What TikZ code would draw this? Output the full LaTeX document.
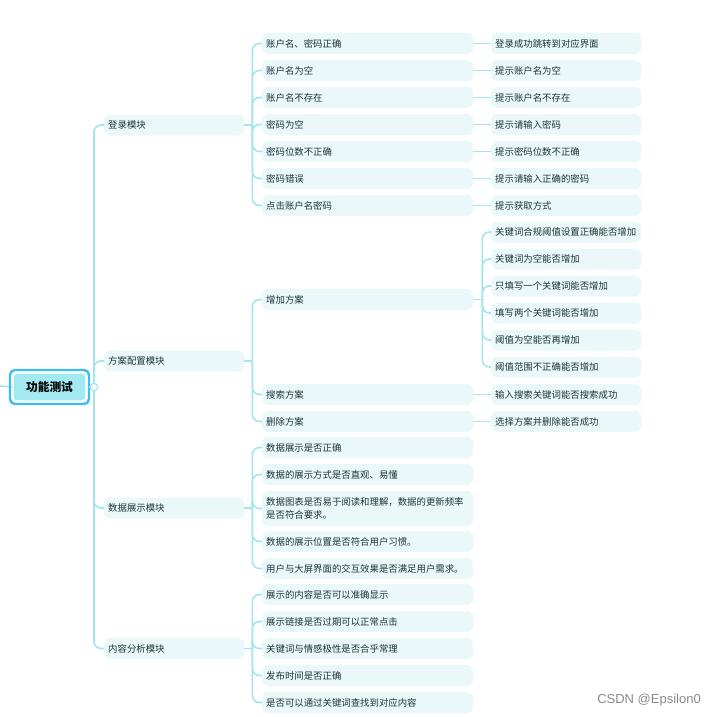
\documentclass[tikz,border=0pt]{standalone}
\usepackage{fontspec}
\newfontfamily\cjk{Noto Sans CJK SC}
\newfontfamily\wmfont{Liberation Sans}
\definecolor{linec}{HTML}{A2E5EE}
\definecolor{boxc}{HTML}{EAF8FA}
\definecolor{txtc}{HTML}{1C3438}
\definecolor{rootf}{HTML}{A3E9F1}
\definecolor{rootb}{HTML}{3BBEF5}
\definecolor{wmc}{HTML}{8A8A8A}
\begin{document}
\begin{tikzpicture}[x=1pt,y=-1pt,
  conn/.style={draw=linec, line width=1.6pt, rounded corners=7pt},
  lone/.style={rectangle, rounded corners=6pt, fill=boxc, anchor=west, minimum height=21pt, inner xsep=4pt, inner ysep=2pt, align=left, text=txtc, font=\cjk\fontsize{9.4}{13}\selectfont, text width=132pt},
  ltwo/.style={lone, text width=203pt},
  lthree/.style={lone, text width=142pt},
]
\useasboundingbox (0,0) rectangle (715,717);
% root
\coordinate (lstub) at (0,386);
\node[rectangle, rounded corners=4pt, fill=rootf, draw=white, line width=1.2pt, minimum width=73pt, minimum height=28pt, inner sep=0pt, text=black, font=\cjk\bfseries\fontsize{11.7}{14}\selectfont] (root) at (49.5,387) {功能测试};
\draw[conn] (lstub) -- (root.west);
\draw[draw=rootb, line width=2.4pt, rounded corners=5pt] ([xshift=-2.4pt,yshift=2.4pt]root.north west) rectangle ([xshift=2.4pt,yshift=-2.4pt]root.south east);
\coordinate (hub) at (94,387);
\draw[conn] ([xshift=2.4pt]root.east) -- (hub);
% level 1
\node[lone] (m1) at (104,125) {登录模块};
\node[lone] (m2) at (104,361) {方案配置模块};
\node[lone] (m3) at (104,508) {数据展示模块};
\node[lone] (m4) at (104,648.5) {内容分析模块};
\foreach \m in {m1,m2,m3,m4} \draw[conn] (hub) |- (\m.west);
\node[circle, draw=linec, fill=white, line width=1.2pt, minimum size=7.5pt, inner sep=0pt] (hubdot) at (hub) {};
% login
\node[ltwo] (a1) at (262,43.5) {账户名、密码正确};
\node[ltwo] (a2) at (262,70.5) {账户名为空};
\node[ltwo] (a3) at (262,97.5) {账户名不存在};
\node[ltwo] (a4) at (262,124.5) {密码为空};
\node[ltwo] (a5) at (262,151.5) {密码位数不正确};
\node[ltwo] (a6) at (262,178.5) {密码错误};
\node[ltwo] (a7) at (262,205.5) {点击账户名密码};
\draw[conn] (m1.east) -- ++(8,0) coordinate (j1);
\foreach \a in {a1,a2,a3,a4,a5,a6,a7} \draw[conn] (j1) |- (\a.west);
\node[lthree] (b1) at (491,43.5) {登录成功跳转到对应界面};
\node[lthree] (b2) at (491,70.5) {提示账户名为空};
\node[lthree] (b3) at (491,97.5) {提示账户名不存在};
\node[lthree] (b4) at (491,124.5) {提示请输入密码};
\node[lthree] (b5) at (491,151.5) {提示密码位数不正确};
\node[lthree] (b6) at (491,178.5) {提示请输入正确的密码};
\node[lthree] (b7) at (491,205.5) {提示获取方式};
\foreach \i in {1,...,7} \draw[conn, line width=1.9pt] (a\i.east) -- (b\i.west);
% scheme config
\node[ltwo] (s1) at (262,299.5) {增加方案};
\node[ltwo] (s2) at (262,394.5) {搜索方案};
\node[ltwo] (s3) at (262,421.5) {删除方案};
\draw[conn] (m2.east) -- ++(8,0) coordinate (j2);
\foreach \a in {s1,s2,s3} \draw[conn] (j2) |- (\a.west);
\node[lthree] (e1) at (491,232) {关键词合规阈值设置正确能否增加};
\node[lthree] (e2) at (491,259) {关键词为空能否增加};
\node[lthree] (e3) at (491,286) {只填写一个关键词能否增加};
\node[lthree] (e4) at (491,313) {填写两个关键词能否增加};
\node[lthree] (e5) at (491,340) {阈值为空能否再增加};
\node[lthree] (e6) at (491,367) {阈值范围不正确能否增加};
\draw[conn] (s1.east) -- ++(9,0) coordinate (j3);
\foreach \a in {e1,e2,e3,e4,e5,e6} \draw[conn] (j3) |- (\a.west);
\node[lthree] (f1) at (491,394.5) {输入搜索关键词能否搜索成功};
\node[lthree] (f2) at (491,421.5) {选择方案并删除能否成功};
\draw[conn, line width=1.9pt] (s2.east) -- (f1.west);
\draw[conn, line width=1.9pt] (s3.east) -- (f2.west);
% data display
\node[ltwo] (d1) at (262,447.5) {数据展示是否正确};
\node[ltwo] (d2) at (262,474.5) {数据的展示方式是否直观、易懂};
\node[ltwo, minimum height=35pt] (d3) at (262,508.5) {数据图表是否易于阅读和理解，数据的更新频率\\是否符合要求。};
\node[ltwo] (d4) at (262,541.5) {数据的展示位置是否符合用户习惯。};
\node[ltwo] (d5) at (262,568.5) {用户与大屏界面的交互效果是否满足用户需求。};
\draw[conn] (m3.east) -- ++(8,0) coordinate (j4);
\foreach \a in {d1,d2,d3,d4,d5} \draw[conn] (j4) |- (\a.west);
% content analysis
\node[ltwo] (c1) at (262,594.5) {展示的内容是否可以准确显示};
\node[ltwo] (c2) at (262,621.5) {展示链接是否过期可以正常点击};
\node[ltwo] (c3) at (262,648.5) {关键词与情感极性是否合乎常理};
\node[ltwo] (c4) at (262,675.5) {发布时间是否正确};
\node[ltwo] (c5) at (262,702.5) {是否可以通过关键词查找到对应内容};
\draw[conn] (m4.east) -- ++(8,0) coordinate (j5);
\foreach \a in {c1,c2,c3,c4,c5} \draw[conn] (j5) |- (\a.west);
% watermark
\node[font=\wmfont\fontsize{13}{15}\selectfont, text=wmc, anchor=east, inner sep=0pt] (wm) at (701,700) {CSDN @Epsilon0};
\end{tikzpicture}
\end{document}
